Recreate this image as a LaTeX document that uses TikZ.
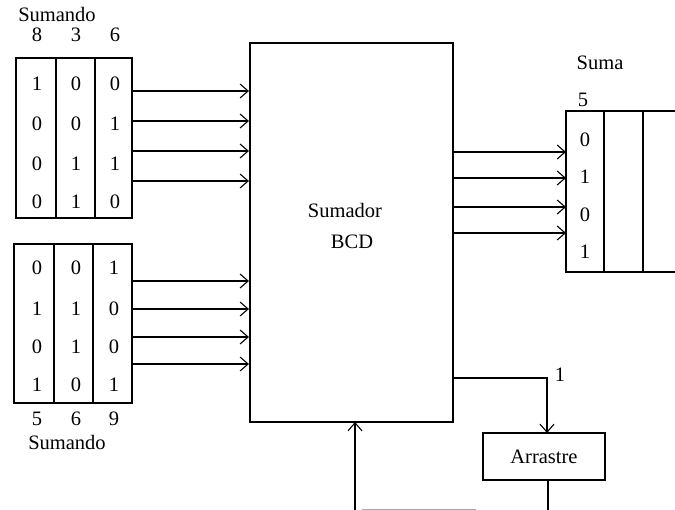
\documentclass[tikz,border=0pt]{standalone}
\usepackage{fontspec}
\setmainfont{Liberation Serif}
\usetikzlibrary{arrows.meta}
\begin{document}
\begin{tikzpicture}[x=1pt,y=-1pt,
  thick box/.style={draw,line width=2.2pt},
  wire/.style={line width=1.1pt},
  arr/.style={wire,-{Straight Barb[length=8pt,width=14pt,line width=1.1pt]}},
  lbl/.style={inner sep=0pt,font=\fontsize{20.5}{22}\selectfont},
  every node/.style={lbl}]
\useasboundingbox (0,0) rectangle (675,510);
% Top addend register
\draw[thick box] (16,58) rectangle (132,218);
\draw[line width=2.2pt] (56,58) -- (56,218) (95,58) -- (95,218);
\node (sa1) at (57,14) {Sumando};
\node at (37,35) {8};\node at (76,35) {3};\node at (115,35) {6};
\foreach \y/\a/\b/\c in {84/1/0/0,124/0/0/1,164/0/1/1,202/0/1/0}{
  \node at (37,\y) {\a};\node at (76,\y) {\b};\node at (115,\y) {\c};}
% Bottom addend register
\draw[thick box] (14,244) rectangle (132,403);
\draw[line width=2.2pt] (54,244) -- (54,403) (93,244) -- (93,403);
\foreach \y/\a/\b/\c in {268/0/0/1,309/1/1/0,347/0/1/0,385/1/0/1}{
  \node at (37,\y) {\a};\node at (76,\y) {\b};\node at (114,\y) {\c};}
\node at (37,419) {5};\node at (76,419) {6};\node at (114,419) {9};
\node (sa2) at (67,442) {Sumando};
% BCD adder
\node[thick box,minimum width=203pt,minimum height=379pt,inner sep=0pt] (add) at (351.5,232.5) {};
\node at (345,210) {Sumador};
\node at (352,242) {BCD};
% inputs
\foreach \y in {91,121,151,181,281,309,337,364}{
  \coordinate (s\y) at (132,\y);
  \draw[arr] (s\y) -- (add.west |- s\y);}
% Sum register
\draw[line width=2.2pt] (675,111) -- (566,111) -- (566,272) -- (675,272);
\draw[line width=2.2pt] (604,111) -- (604,272) (643,111) -- (643,272);
\node at (600,63) {Suma};
\node at (583,100) {5};
\foreach \y/\d in {140/0,177/1,215/0,252/1}{\node at (585,\y) {\d};}
\foreach \y in {152,178,207,233}{
  \coordinate (r\y) at (566,\y);
  \draw[arr] (add.east |- r\y) -- (r\y);}
% Carry
\node[thick box,minimum width=122pt,minimum height=47pt] (carry) at (544,456.5) {Arrastre};
\coordinate (cy) at (add.east |- 0,378);
\draw[arr] (cy) -| (547,433);
\node at (560,375) {1};
% feedback
\coordinate (fb1) at (548,510);
\coordinate (fb2) at (355,510);
\draw[wire] (548,480) -- (fb1);
\draw[line width=0.9pt,black!35] (362,509) -- (476,509);
\draw[arr] (fb2) -- (355,422);
\end{tikzpicture}
\end{document}
